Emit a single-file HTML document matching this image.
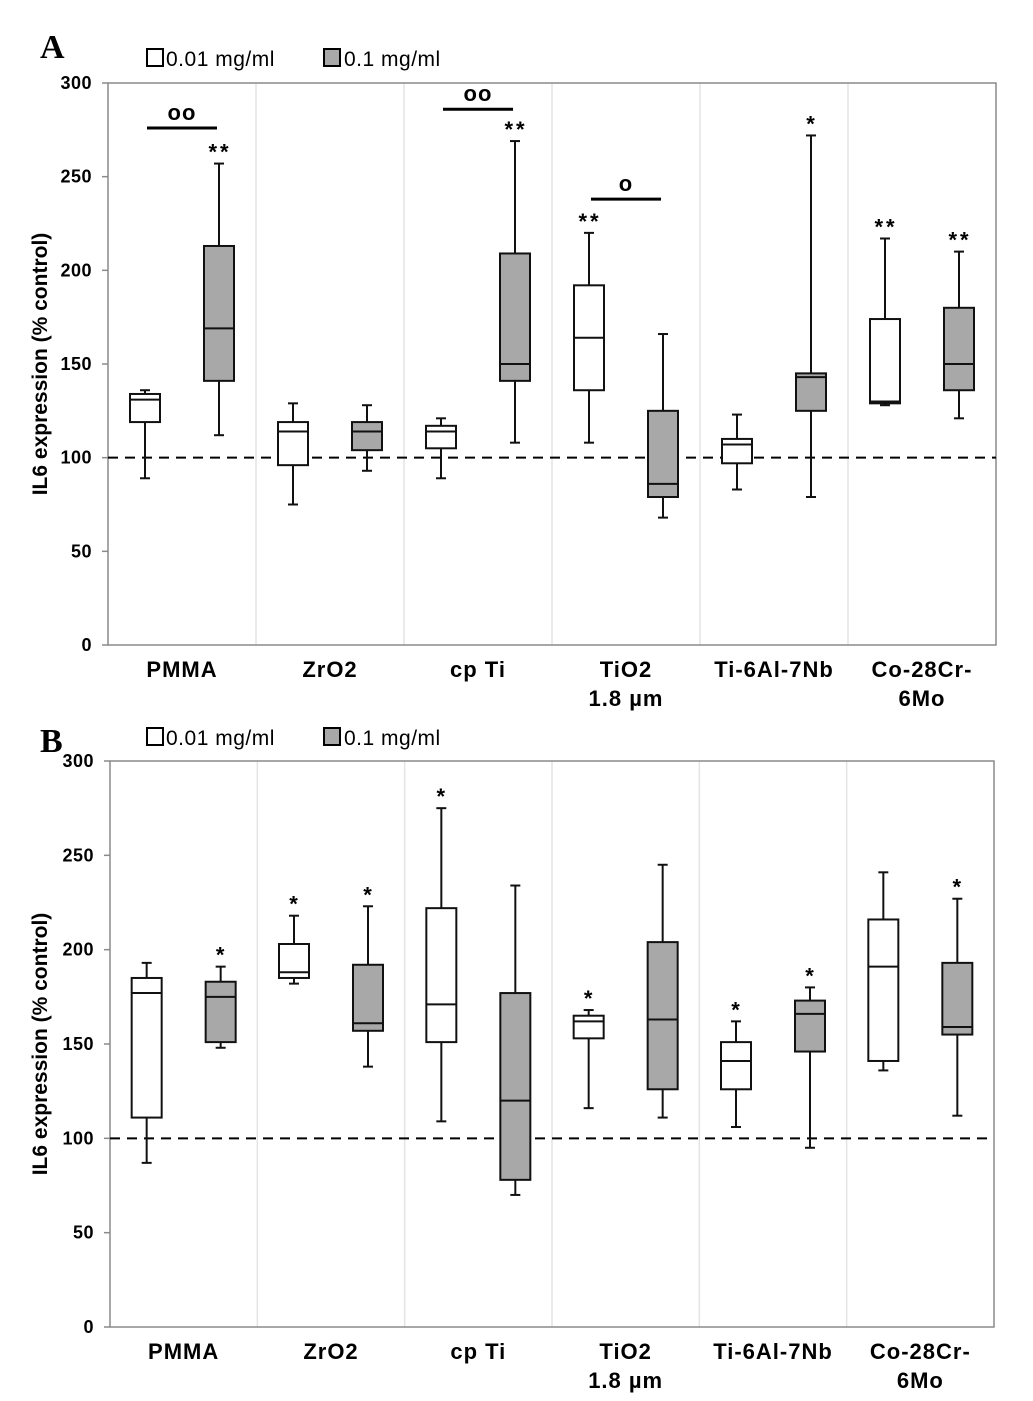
<!DOCTYPE html>
<html><head><meta charset="utf-8"><style>
html,body{margin:0;padding:0;background:#fff;}
svg{display:block;font-family:"Liberation Sans","DejaVu Sans",sans-serif;}
</style></head><body>
<svg id="chart" width="1033" height="1401" viewBox="0 0 1033 1401" xmlns="http://www.w3.org/2000/svg"></svg>
<script>
const categories = ["PMMA","ZrO2","cp Ti","TiO2|1.8 µm","Ti-6Al-7Nb","Co-28Cr-|6Mo"];
const ticks = [0,50,100,150,200,250,300];
// [min, q1, median, q3, max]
const aWhite = [[89,119,131,134,136],[75,96,114,119,129],[89,105,114,117,121],[108,136,164,192,220],[83,97,107,110,123],[128,129,130,174,217]];
const aGrey  = [[112,141,169,213,257],[93,104,114,119,128],[108,141,150,209,269],[68,79,86,125,166],[79,125,143,145,272],[121,136,150,180,210]];
const aWhiteStars = ["","","","**","","**"];
const aGreyStars  = ["**","","**","","*","**"];
const bWhite = [[87,111,177,185,193],[182,185,188,203,218],[109,151,171,222,275],[116,153,162,165,168],[106,126,141,151,162],[136,141,191,216,241]];
const bGrey  = [[148,151,175,183,191],[138,157,161,192,223],[70,78,120,177,234],[111,126,163,204,245],[95,146,166,173,180],[112,155,159,193,227]];
const bWhiteStars = ["","*","*","*","*",""];
const bGreyStars  = ["*","*","","","*","*"];
// brackets: [group index, value, label]
const aBrackets = [[0,276,"oo"],[2,286,"oo"],[3,238,"o"]];

const NS="http://www.w3.org/2000/svg";
const svg=document.getElementById('chart');
function mk(tag,attrs,parent,text){const e=document.createElementNS(NS,tag);for(const k in attrs)e.setAttribute(k,attrs[k]);if(text!==undefined)e.textContent=text;(parent||svg).appendChild(e);return e;}

function panel(cfg){
  const g=mk('g',{});
  
  
  const x0=cfg.x0,x1=cfg.x1,yTop=cfg.yTop,yBot=cfg.yBot;
  const yS=v=>yBot-(v/300)*(yBot-yTop);
  const gw=(x1-x0)/categories.length;
  const xC=i=>x0+gw*(i+0.5);
  const L=mk('text',{x:40,y:cfg.letterY,'font-family':'"Liberation Serif",serif','font-weight':'bold','font-size':34,fill:'#000'},g,cfg.letter);
  
  
  const lg=mk('g',{},g);
  
  
  const ly=cfg.legendY;
  const e1=mk('rect',{x:147,y:ly-9,width:16,height:17,fill:'#fff',stroke:'#000','stroke-width':2},lg);
  
  
  const t1=mk('text',{x:166,y:ly+8,'font-size':21,'letter-spacing':0.5,fill:'#000'},lg,'0.01 mg/ml');
  
  
  const e2=mk('rect',{x:324,y:ly-9,width:16,height:17,fill:'#a8a8a8',stroke:'#000','stroke-width':2},lg);
  
  
  const t2=mk('text',{x:344,y:ly+8,'font-size':21,'letter-spacing':0.5,fill:'#000'},lg,'0.1 mg/ml');
  
  
  for(let i=1;i<categories.length;i++){
    const s=mk('line',{x1:x0+gw*i,x2:x0+gw*i,y1:yTop,y2:yBot,stroke:'#e4e4e4','stroke-width':1.5},g);
    
    
  }
  const fr=mk('rect',{x:x0,y:yTop,width:x1-x0,height:yBot-yTop,fill:'none',stroke:'#8a8a8a','stroke-width':1.5},g);
  
  
  ticks.forEach(t=>{
    const tl=mk('line',{x1:x0-6,x2:x0,y1:yS(t),y2:yS(t),stroke:'#8a8a8a','stroke-width':1.5},g);
    
    
    const tx=mk('text',{x:x0-16,y:yS(t)+6,'text-anchor':'end','font-weight':'bold','font-size':18,'letter-spacing':0.5,fill:'#000'},g,String(t));
    
    
  });
  const yc=(yTop+yBot)/2;
  const yt=mk('text',{x:0,y:0,transform:`translate(47,${yc}) rotate(-90)`,'text-anchor':'middle','font-weight':'bold','font-size':21,fill:'#000'},g,'IL6 expression (% control)');
  
  
  categories.forEach((c,i)=>{
    c.split('|').forEach((ln,k)=>{
      const xl=mk('text',{x:xC(i),y:yBot+32+k*29,'text-anchor':'middle','font-weight':'bold','font-size':22,'letter-spacing':1,fill:'#000'},g,ln);
      
      
    });
  });
  const dl=mk('line',{x1:x0,x2:x1,y1:yS(100),y2:yS(100),stroke:'#000','stroke-width':2,'stroke-dasharray':'10 7'},g);
  
  
  function box(vals,cx,fill,nm,star){
    const bg=mk('g',{},g);
    
    
    const [mn,q1,md,q3,mx]=vals;const w=30;
    mk('line',{x1:cx,x2:cx,y1:yS(mx),y2:yS(q3),stroke:'#111','stroke-width':2},bg);
    mk('line',{x1:cx,x2:cx,y1:yS(q1),y2:yS(mn),stroke:'#111','stroke-width':2},bg);
    mk('line',{x1:cx-5,x2:cx+5,y1:yS(mx),y2:yS(mx),stroke:'#111','stroke-width':2},bg);
    mk('line',{x1:cx-5,x2:cx+5,y1:yS(mn),y2:yS(mn),stroke:'#111','stroke-width':2},bg);
    mk('rect',{x:cx-w/2,y:yS(q3),width:w,height:yS(q1)-yS(q3),fill:fill,stroke:'#111','stroke-width':2},bg);
    mk('line',{x1:cx-w/2,x2:cx+w/2,y1:yS(md),y2:yS(md),stroke:'#111','stroke-width':2},bg);
    if(star){
      const st=mk('text',{x:cx+1,y:yS(mx)-4,'text-anchor':'middle','font-weight':'bold','font-size':22,'letter-spacing':3,fill:'#000'},bg,star);
      
      
    }
  }
  categories.forEach((c,i)=>{
    box(cfg.white[i],xC(i)-37,'#fff','box-0.01-'+i,cfg.wStars[i]);
    box(cfg.grey[i],xC(i)+37,'#a8a8a8','box-0.1-'+i,cfg.gStars[i]);
  });
  (cfg.brackets||[]).forEach(b=>{
    const bl=mk('line',{x1:xC(b[0])-35,x2:xC(b[0])+35,y1:yS(b[1]),y2:yS(b[1]),stroke:'#000','stroke-width':3},g);
    
    
    const bt=mk('text',{x:xC(b[0]),y:yS(b[1])-8,'text-anchor':'middle','font-weight':'bold','font-size':22,'letter-spacing':1,fill:'#000'},g,b[2]);
    
    
  });
}
panel({name:'panel-a',letter:'A',letterY:58,legendY:58,x0:108,x1:996,yTop:83,yBot:645,white:aWhite,grey:aGrey,wStars:aWhiteStars,gStars:aGreyStars,brackets:aBrackets});
panel({name:'panel-b',letter:'B',letterY:752,legendY:737,x0:110,x1:994,yTop:761,yBot:1327,white:bWhite,grey:bGrey,wStars:bWhiteStars,gStars:bGreyStars,brackets:[]});
</script>
</body></html>
